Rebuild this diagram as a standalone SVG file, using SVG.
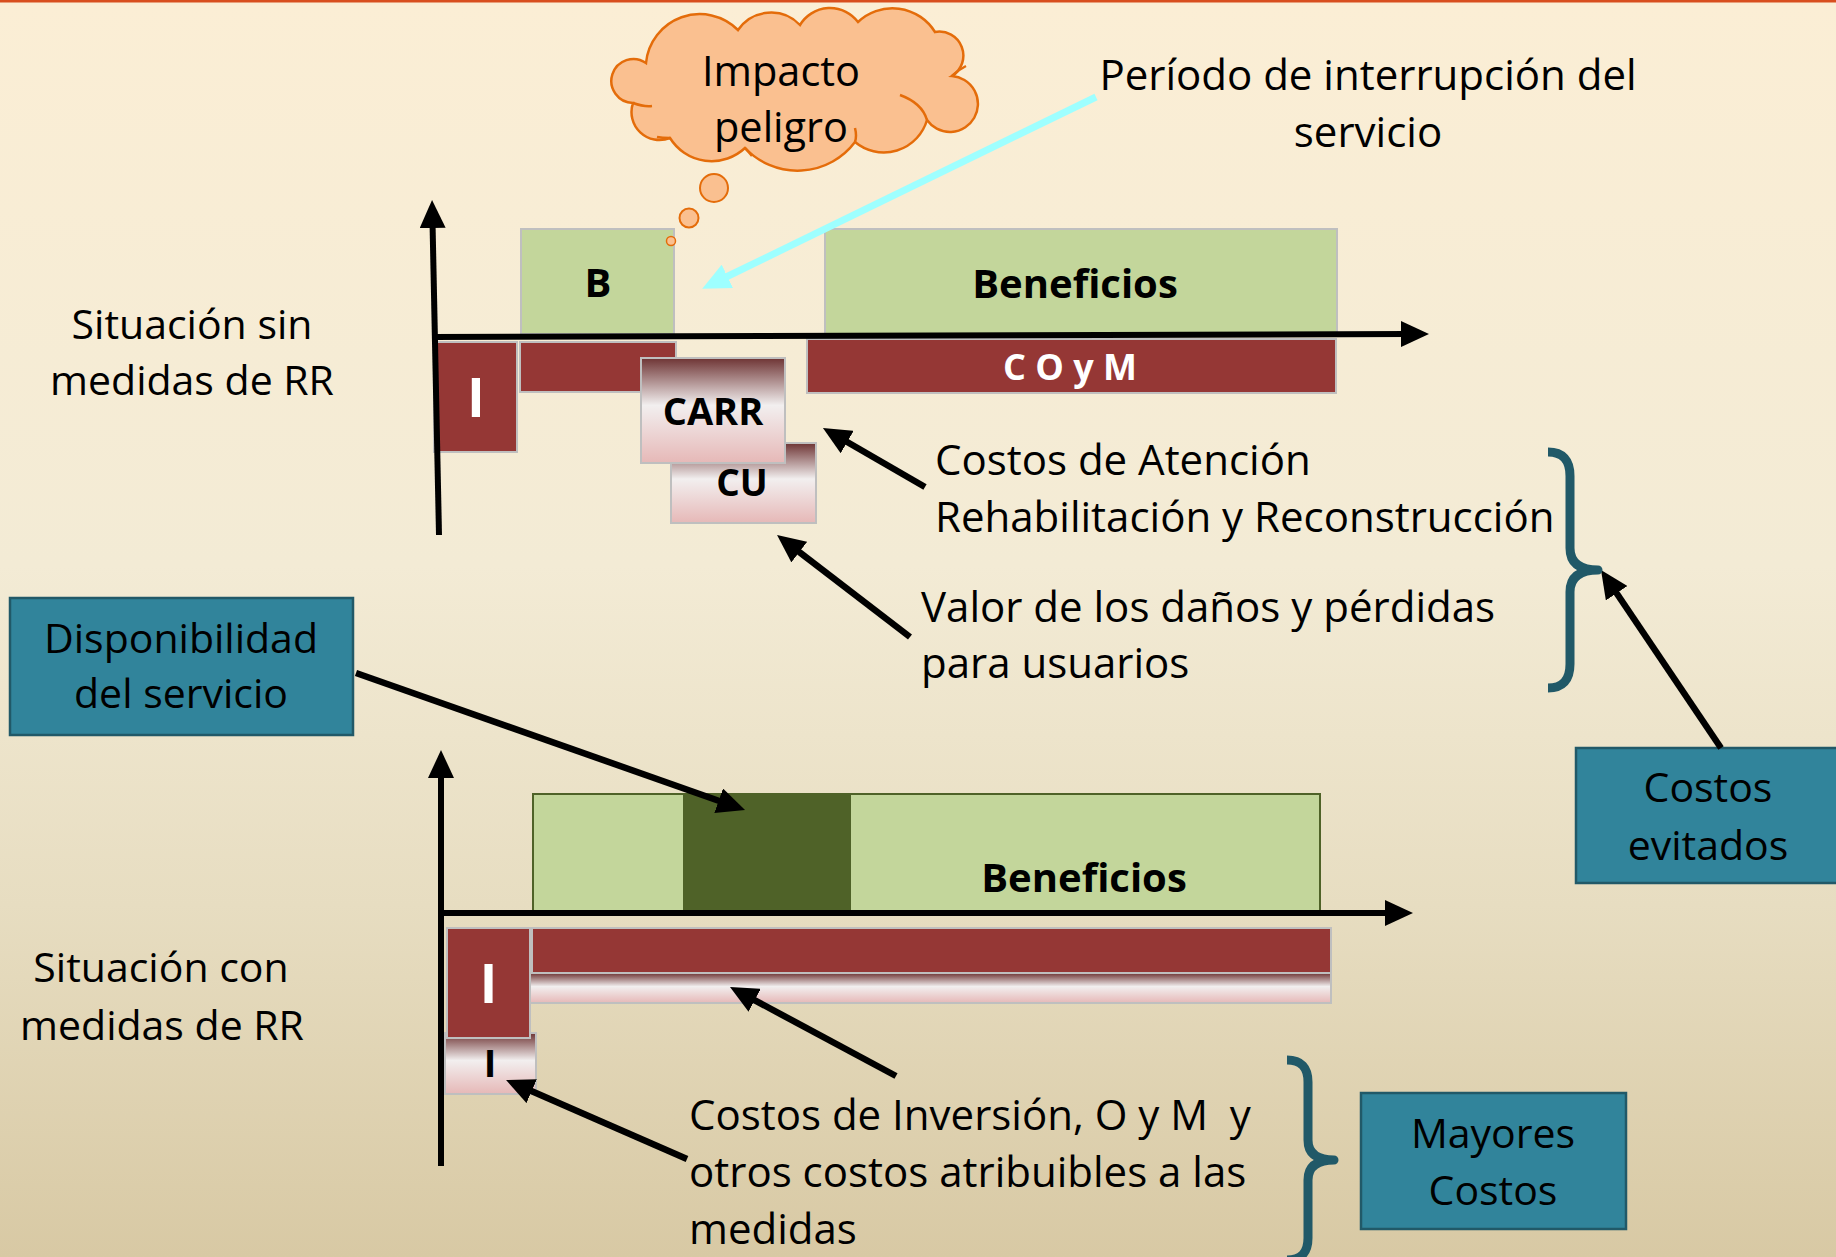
<svg xmlns="http://www.w3.org/2000/svg" width="1836" height="1257" viewBox="0 0 1836 1257">
<defs>
<linearGradient id="bg" x1="0" y1="0" x2="0" y2="1">
<stop offset="0" stop-color="#FBEED5"/>
<stop offset="0.45" stop-color="#F3EBD5"/>
<stop offset="0.72" stop-color="#E7DDC1"/>
<stop offset="1" stop-color="#D8C9A4"/>
</linearGradient>
<linearGradient id="pk" x1="0" y1="0" x2="0" y2="1">
<stop offset="0" stop-color="#6E3434"/>
<stop offset="0.45" stop-color="#F2EFEF"/>
<stop offset="1" stop-color="#E6B8B7"/>
</linearGradient>
<marker id="ah" markerUnits="userSpaceOnUse" markerWidth="28" markerHeight="26" viewBox="0 0 28 26" refX="6" refY="13" orient="auto">
<path d="M0,0 L28,13 L0,26 z" fill="#000"/>
</marker>
<marker id="ahc" markerUnits="userSpaceOnUse" markerWidth="28" markerHeight="26" viewBox="0 0 28 26" refX="6" refY="13" orient="auto">
<path d="M0,0 L28,13 L0,26 z" fill="#9EFFFF"/>
</marker>
</defs>
<style>
.t{font-family:"Open Sans","Noto Sans","DejaVu Sans",sans-serif;font-size:41px;fill:#000}
.l{font-size:42px}
.c{text-anchor:middle}
.b{font-weight:bold;font-size:40px}
.w{fill:#fff}
.g{fill:#C3D69B;stroke:#BFBFBF;stroke-width:2}
.r{fill:#953735;stroke:#BFBFBF;stroke-width:2}
.p{fill:url(#pk);stroke:#BFBFBF;stroke-width:2}
.tb{fill:#31849B;stroke:#215968;stroke-width:2.5}
.ax{stroke:#000;stroke-width:6;fill:none;marker-end:url(#ah)}
.ar{stroke:#000;stroke-width:6.5;fill:none;marker-end:url(#ah)}
.br{stroke:#215968;stroke-width:9;fill:none;stroke-linejoin:round}
.cl{fill:#FAC090;stroke:#E46C0A;stroke-width:2.5}
</style>
<rect x="0" y="0" width="1836" height="1257" fill="url(#bg)"/>
<rect x="0" y="0" width="1836" height="2.5" fill="#D84E1E"/>

<g id="periodo-label">
<text class="t l c" x="1368" y="90">Período de interrupción del</text>
<text class="t l c" x="1368" y="147">servicio</text>
</g>

<g id="sin-label">
<text class="t c" x="192" y="339">Situación sin</text>
<text class="t c" x="192" y="395">medidas de RR</text>
</g>

<g id="B-box">
<rect class="g" x="521" y="229" width="153" height="105"/>
<text class="t c b" x="598" y="297">B</text>
</g>
<g id="beneficios-top">
<rect class="g" x="825" y="229" width="512" height="105"/>
<text class="t c b" x="1075" y="298">Beneficios</text>
</g>
<g id="I-top">
<rect class="r" x="434" y="342" width="83" height="110"/>
<text class="t c b w" x="476" y="417" style="font-size:54px">I</text>
</g>
<g id="red-small-top">
<rect class="r" x="520" y="342" width="156" height="50"/>
</g>
<g id="CU-box">
<rect class="p" x="671" y="443" width="145" height="80"/>
<text class="t c b" x="742" y="496" style="font-size:37px">CU</text>
</g>
<g id="CARR-box">
<rect class="p" x="641" y="358" width="144" height="105"/>
<text class="t c b" x="713" y="425" style="font-size:38px">CARR</text>
</g>
<g id="COyM-box">
<rect class="r" x="807" y="339" width="529" height="54"/>
<text class="t c b w" x="1070" y="380" style="font-size:36px">C O y M</text>
</g>

<g id="cloud">
<path class="cl" d="M646,63 A54,54 0 0 1 738,30 A40,40 0 0 1 800,25 A35,35 0 0 1 858,22 A50,50 0 0 1 935,32 A24,24 0 0 1 952,76 A28,28 0 1 1 927,120 A45,45 0 0 1 855,142 A72,72 0 0 1 745,148 A49,49 0 0 1 670,138 A28,28 0 0 1 633,103 A22,22 0 1 1 646,63 Z"/>
<path d="M900,95 Q922,103 927,120 M633,103 Q644,107 652,106 M855,142 Q857,136 855,128 M952,76 Q958,70 966,66 M745,148 Q749,152 752,156 M670,138 Q662,138 657,137" fill="none" stroke="#E46C0A" stroke-width="2.5"/>
<circle class="cl" cx="714" cy="188" r="14" style="stroke-width:2"/>
<circle class="cl" cx="689" cy="218" r="9.5" style="stroke-width:2"/>
<circle class="cl" cx="671" cy="241" r="4.5" style="stroke-width:1.5"/>
<text class="t c" x="781" y="86" style="font-size:41.5px">Impacto</text>
<text class="t c" x="781" y="142" style="font-size:41.5px">peligro</text>
</g>

<g id="atencion-label">
<text class="t l" x="935" y="475">Costos de Atención</text>
<text class="t l" x="935" y="532">Rehabilitación y Reconstrucción</text>
</g>
<g id="valor-label">
<text class="t l" x="921" y="622">Valor de los daños y pérdidas</text>
<text class="t l" x="921" y="678">para usuarios</text>
</g>

<g id="disponibilidad-box">
<rect class="tb" x="10" y="598" width="343" height="137"/>
<text class="t c" x="181" y="653">Disponibilidad</text>
<text class="t c" x="181" y="708">del servicio</text>
</g>

<g id="costos-evitados-box">
<rect class="tb" x="1576" y="748" width="300" height="135"/>
<text class="t c" x="1708" y="802">Costos</text>
<text class="t c" x="1708" y="860">evitados</text>
</g>

<g id="beneficios-bottom">
<rect x="533" y="794" width="787" height="119" fill="#C3D69B" stroke="#4F6228" stroke-width="2"/>
<rect x="683" y="794" width="168" height="119" fill="#4F6228"/>
<text class="t c b" x="1084" y="892">Beneficios</text>
</g>
<g id="I-small-bottom">
<rect class="p" x="445" y="1033" width="91" height="61"/>
<text class="t c b" x="490" y="1077" style="font-size:38px">I</text>
</g>
<g id="I-bottom">
<rect class="r" x="447" y="928" width="83" height="110"/>
<text class="t c b w" x="488.5" y="1003" style="font-size:53px">I</text>
</g>
<g id="bar-grad-bottom">
<rect class="p" x="530" y="973" width="801" height="30"/>
</g>
<g id="bar-red-bottom">
<rect class="r" x="532" y="928" width="799" height="45"/>
</g>

<g id="con-label">
<text class="t c" x="161" y="982">Situación con</text>
<text class="t c" x="162" y="1040">medidas de RR</text>
</g>
<g id="inversion-label">
<text class="t l" x="689" y="1130" style="white-space:pre">Costos de Inversión, O y M  y</text>
<text class="t l" x="689" y="1187">otros costos atribuibles a las</text>
<text class="t l" x="689" y="1244">medidas</text>
</g>
<g id="mayores-costos-box">
<rect class="tb" x="1361" y="1093" width="265" height="136"/>
<text class="t c" x="1493" y="1148">Mayores</text>
<text class="t c" x="1493" y="1205">Costos</text>
</g>

<g id="connectors">
<line class="ax" x1="439" y1="535" x2="432.5" y2="222"/>
<line class="ax" x1="433" y1="337" x2="1407" y2="334"/>
<line class="ax" x1="441" y1="1166" x2="441" y2="772"/>
<line class="ax" x1="441" y1="913" x2="1391" y2="913"/>
<line x1="1096" y1="97" x2="722" y2="279" stroke="#9EFFFF" stroke-width="7" marker-end="url(#ahc)"/>
<line class="ar" x1="925" y1="487" x2="842" y2="439"/>
<line class="ar" x1="910" y1="637" x2="794.5" y2="548.4"/>
<line class="ar" x1="1721" y1="748" x2="1613.3" y2="588.2"/>
<line class="ar" x1="356" y1="673" x2="724.3" y2="802.7"/>
<line class="ar" x1="896" y1="1076" x2="749.4" y2="997.4"/>
<line class="ar" x1="687" y1="1159" x2="526.2" y2="1088.8"/>
<path class="br" d="M1548,452 Q1570,452 1570,476 L1570,548 Q1570,570 1598,570 Q1570,570 1570,592 L1570,664 Q1570,688 1548,688"/>
<path class="br" d="M1287,1060 Q1308,1060 1308,1082 L1308,1140 Q1308,1160 1334,1160 Q1308,1160 1308,1180 L1308,1238 Q1308,1260 1287,1260"/>
</g>
</svg>
